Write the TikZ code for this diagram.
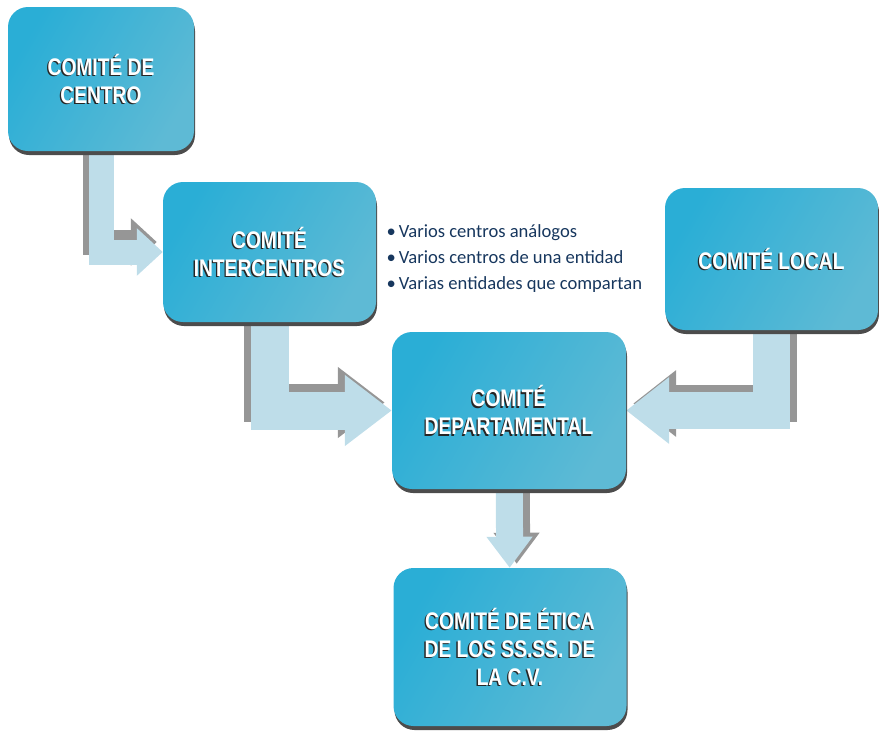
\documentclass[tikz,border=0pt]{standalone}
\usepackage{fontspec}
\usepackage{tikz}
\usetikzlibrary{arrows.meta,shadows,backgrounds}
\newfontfamily\comitefont[FakeStretch=0.8]{Liberation Sans}
\newfontfamily\notafont{Carlito}
\definecolor{azulA}{RGB}{42,174,214}
\definecolor{azulB}{RGB}{94,186,213}
\definecolor{flechaazul}{RGB}{190,221,233}
\definecolor{flechagris}{RGB}{150,150,150}
\definecolor{notaazul}{RGB}{23,55,94}
\newcommand\txtsombra[1]{\raisebox{0pt}[\dimexpr\height+9pt\relax]{\rlap{\hspace{-1.4pt}\raisebox{-1.4pt}{\color{black!85}\begin{tabular}{@{}c@{}}#1\end{tabular}}}\begin{tabular}{@{}c@{}}#1\end{tabular}}}

\begin{document}
\begin{tikzpicture}[x=1pt,y=-1pt,
    comite/.style={rectangle,rounded corners=20pt,inner sep=0pt,
      left color=azulA,right color=azulB,shading angle=60,
      drop shadow={shadow xshift=1pt,shadow yshift=-4pt,fill=black!70,opacity=1},
      text=white,font=\comitefont\bfseries\fontsize{24}{28}\selectfont},
    flecha/.style={draw=flechaazul},
    sombra/.style={draw=flechagris}]
    \useasboundingbox (0,0) rectangle (879,731);

    % Comités
    \node[comite,minimum width=186pt,minimum height=144pt] (c) at (101,79) {\txtsombra{COMITÉ DE\\CENTRO}};
    \node[comite,minimum width=213pt,minimum height=140pt] (i) at (269.5,252) {\txtsombra{COMITÉ\\INTERCENTROS}};
    \node[comite,minimum width=213pt,minimum height=142pt] (l) at (771.5,259) {\txtsombra{COMITÉ LOCAL}};
    \node[comite,minimum width=234pt,minimum height=157pt] (d) at (509,410.5) {\txtsombra{COMITÉ\\DEPARTAMENTAL}};
    \node[comite,minimum width=233pt,minimum height=158pt] (e) at (510,647) {\txtsombra{COMITÉ DE ÉTICA\\DE LOS SS.SS. DE\\LA C.V.}};

    % Flechas (detrás de los comités, sombra primero)
    \begin{scope}[on background layer]
    \draw[sombra,line width=25pt,-{Triangle[width=46pt,length=26pt]},transform canvas={shift={(-6,-10)}}] (c) |- (i);
    \draw[flecha,line width=25pt,-{Triangle[width=46pt,length=26pt]}] (c) |- (i);
    \draw[sombra,line width=38pt,-{Triangle[width=68pt,length=47pt]},transform canvas={shift={(-7,-8)}}] (i) |- (d);
    \draw[flecha,line width=38pt,-{Triangle[width=68pt,length=47pt]}] (i) |- (d);
    \draw[sombra,line width=37pt,-{Triangle[width=64pt,length=43pt]},transform canvas={shift={(7,-7)}}] (l) |- (d);
    \draw[flecha,line width=37pt,-{Triangle[width=64pt,length=43pt]}] (l) |- (d);
    \draw[sombra,line width=27pt,-{Triangle[width=44pt,length=31pt]},transform canvas={shift={(7,-4)}}] (d) -- (e);
    \draw[flecha,line width=27pt,-{Triangle[width=44pt,length=31pt]}] (d) -- (e);
    \end{scope}

    % Nota
    \node[anchor=west,align=left,text=notaazul,font=\notafont\fontsize{18.6}{26}\selectfont] (n) at (383,259)
      {\textbullet\,Varios centros análogos\\\textbullet\,Varios centros de una entidad\\\textbullet\,Varias entidades que compartan};
  \end{tikzpicture}
\end{document}
